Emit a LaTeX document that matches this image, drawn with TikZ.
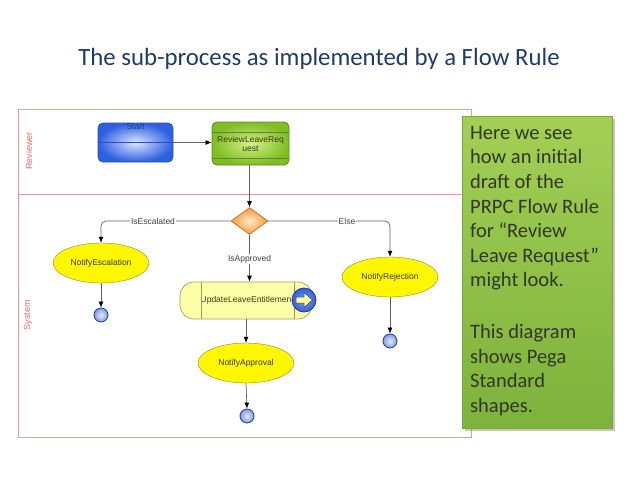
\documentclass[tikz,border=0pt]{standalone}
\usepackage{fontspec}
\setmainfont{Carlito}
\newfontfamily\arialf{Liberation Sans}
\usetikzlibrary{shapes.geometric,arrows.meta,shadows}
\definecolor{titleblue}{HTML}{1F3B68}
\definecolor{laneRed}{HTML}{E89A9A}
\definecolor{laneText}{HTML}{E46A6A}
\definecolor{flowgray}{HTML}{606060}
\definecolor{lblgray}{HTML}{404040}
\definecolor{shapetext}{HTML}{3A3A18}
\definecolor{ellyellow}{HTML}{FFF700}
\definecolor{ellborder}{HTML}{8A8A30}
\definecolor{startout}{HTML}{2E5FE0}
\definecolor{startin}{HTML}{DDE6FF}
\definecolor{startborder}{HTML}{2850C0}
\definecolor{rlrout}{HTML}{80BC22}
\definecolor{rlrin}{HTML}{D4F08A}
\definecolor{rlrborder}{HTML}{5A8A20}
\definecolor{diaout}{HTML}{F09A3A}
\definecolor{diain}{HTML}{FFEBCB}
\definecolor{diaborder}{HTML}{C07020}
\definecolor{updfill}{HTML}{FFFFA8}
\definecolor{updborder}{HTML}{A0A060}
\definecolor{endout}{HTML}{7A9AE8}
\definecolor{endin}{HTML}{E6ECFF}
\definecolor{endborder}{HTML}{203C90}
\definecolor{notetop}{HTML}{A4CF55}
\definecolor{notebot}{HTML}{7DB23C}
\definecolor{noteborder}{HTML}{7AA840}
\definecolor{notetext}{HTML}{303828}
\begin{document}
\begin{tikzpicture}[x=1pt,y=-1pt,
  lane/.style={draw=laneRed, line width=0.8pt},
  lanelabel/.style={font=\arialf\fontsize{9}{10}\selectfont, text=laneText, rotate=90},
  flow/.style={draw=flowgray, line width=0.7pt, -{Latex[length=6pt,width=5pt,color=black]}},
  shapefont/.style={font=\arialf\fontsize{8.5}{9}\selectfont, text=shapetext},
  ell/.style={ellipse, draw=ellborder, fill=ellyellow, minimum width=96pt, minimum height=40pt, inner sep=0pt, shapefont},
  endpt/.style={circle, draw=endborder, line width=0.8pt, inner color=endin, outer color=endout, minimum size=14pt, inner sep=0pt},
  edgelabel/.style={fill=white, inner sep=1pt, font=\arialf\fontsize{8.5}{9}\selectfont, text=lblgray}
]
\useasboundingbox (0,0) rectangle (638,479);

% title
\node[font=\fontsize{24.8}{28}\selectfont, text=titleblue] (title) at (319,59) {The sub-process as implemented by a Flow Rule};

% pool and lanes
\draw[lane] (18,109) rectangle (471,437);
\draw[lane] (18,194) -- (471,194);
\node[lanelabel] (revlbl) at (29,151) {Reviewer};
\node[lanelabel] (syslbl) at (28,315) {System};

% Start
\node[rectangle, rounded corners=5pt, draw=startborder, line width=0.8pt, inner color=startin, outer color=startout, minimum width=75pt, minimum height=39pt] (start) at (135.5,142.5) {};
\draw[startborder, line width=0.6pt] (start.west) -- (start.east);
\node[anchor=north, inner sep=1pt, font=\arialf\fontsize{8.5}{9}\selectfont, text=startborder!70!black] (starttxt) at (start.north) {Start};

% ReviewLeaveRequest
\node[rectangle, rounded corners=5pt, draw=rlrborder, line width=0.8pt, inner color=rlrin, outer color=rlrout, minimum width=77pt, minimum height=43pt, align=center, shapefont] (rlr) at (250.5,143.5) {ReviewLeaveReq\\uest};
\draw[rlrborder, line width=0.6pt] (rlr.west |- 0,132) -- (rlr.east |- 0,132);
\draw[rlrborder, line width=0.6pt] (rlr.west |- 0,158) -- (rlr.east |- 0,158);

% decision
\node[diamond, draw=diaborder, line width=0.7pt, inner color=diain, outer color=diaout, minimum width=37pt, minimum height=27pt, inner sep=0pt] (dia) at (249.5,221) {};

% ellipses
\node[ell] (nesc) at (101,263) {NotifyEscalation};
\node[ell] (nrej) at (390,277) {NotifyRejection};
\node[ell] (napp) at (246,363) {NotifyApproval};

% UpdateLeaveEntitlement
\node[rectangle, rounded corners=14pt, draw=updborder, line width=0.7pt, fill=updfill, minimum width=132pt, minimum height=37pt, shapefont] (upd) at (246,300.5) {UpdateLeaveEntitlemen};
\draw[updborder, line width=0.6pt] (201,282) -- (201,319);
\draw[updborder, line width=0.6pt] (294,282) -- (294,319);
\node[circle, draw=endborder, line width=0.8pt, inner color=startout!60!white, outer color=startout, minimum size=24pt, inner sep=0pt] (subicon) at (304,300) {};
\filldraw[fill=updfill, draw=black!80, line width=0.5pt, shift={(subicon.center)}]
  (-8,-3) -- (0,-3) -- (0,-7.5) -- (8.5,0) -- (0,7.5) -- (0,3) -- (-8,3) -- cycle;

% end points
\node[endpt] (e1) at (101,315) {};
\node[endpt] (e2) at (390,341) {};
\node[endpt] (e3) at (247,416) {};

% connectors
\draw[flow] (start.east) -- (start.east -| rlr.west);
\draw[flow] (rlr.south -| dia.north) -- (dia.north);
\draw[flow, rounded corners=5pt] (dia.west) -| (nesc.north);
\draw[flow, rounded corners=5pt] (dia.east) -| (nrej.north);
\draw[flow] (dia.south) -- (dia.south |- upd.north);
\draw[flow] (upd.south) -- (napp.north);
\draw[flow] (nesc.south) -- (e1.north);
\draw[flow] (nrej.south) -- (e2.north);
\draw[flow] (napp.south) -- (e3.north);

% edge labels
\node[edgelabel] (lesc) at (153,221) {IsEscalated};
\node[edgelabel] (lelse) at (347,221) {Else};
\node[edgelabel] (lapp) at (249.5,259) {IsApproved};

% note box
\node[rectangle, draw=noteborder, line width=0.6pt, top color=notetop, bottom color=notebot, minimum width=150pt, minimum height=312pt, anchor=north west, drop shadow={opacity=0.45, shadow xshift=3pt, shadow yshift=-3pt}] (note) at (462,116) {};
\node[anchor=north west, inner sep=0pt, align=left, text=notetext, font=\fontsize{20.5}{24.6}\selectfont] (notetxt) at (470,126) {Here we see\\how an initial\\draft of the\\PRPC Flow Rule\\for “Review\\Leave Request”\\might look.\\[27pt]This diagram\\shows Pega\\Standard\\shapes.};
\end{tikzpicture}
\end{document}
